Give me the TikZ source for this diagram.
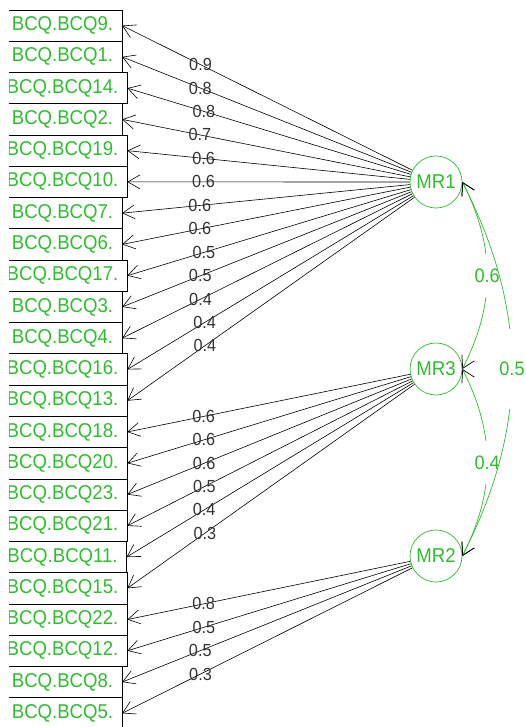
\documentclass[tikz,border=0pt]{standalone}
\usepackage{fontspec}
\setmainfont{Liberation Sans}[FakeStretch=0.93]
\usetikzlibrary{arrows.meta,positioning}
\definecolor{mrgreen}{RGB}{45,190,45}

\begin{document}
\begin{tikzpicture}[
		x=1pt, y=-1pt,
		item/.style={draw, text=mrgreen, minimum height=31.26pt, inner xsep=9pt, inner ysep=0pt, outer sep=0pt, line width=0.7pt, font=\fontsize{20}{22}\selectfont},
		factor/.style={draw=mrgreen, circle, minimum size=52pt, inner sep=0pt, text=mrgreen, line width=0.7pt, font=\fontsize{20}{22}\selectfont},
		load/.style={line width=0.6pt, -{Straight Barb[length=12pt, width=14pt]}},
		loadlbl/.style={pos=.73, inner sep=0pt, text=black!80, font=\fontsize{17.5}{19}\selectfont},
		cor/.style={draw=mrgreen, line width=0.7pt, {Straight Barb[color=black, length=12pt, width=14pt]}-{Straight Barb[color=black, length=12pt, width=14pt]}},
		corlbl/.style={fill=white, text=mrgreen, inner xsep=0pt, inner ysep=14.5pt, font=\fontsize{19.5}{21}\selectfont},
	]
		\useasboundingbox (0,0) rectangle (526,727);
		\clip (9,0) rectangle (526,727);

		\node [item] (i9) at (62.5,25.6) {BCQ.BCQ9.};
		\node [item, below=0pt of i9] (i1) {BCQ.BCQ1.};
		\node [item, below=0pt of i1] (i14) {BCQ.BCQ14.};
		\node [item, below=0pt of i14] (i2) {BCQ.BCQ2.};
		\node [item, below=0pt of i2] (i19) {BCQ.BCQ19.};
		\node [item, below=0pt of i19] (i10) {BCQ.BCQ10.};
		\node [item, below=0pt of i10] (i7) {BCQ.BCQ7.};
		\node [item, below=0pt of i7] (i6) {BCQ.BCQ6.};
		\node [item, below=0pt of i6] (i17) {BCQ.BCQ17.};
		\node [item, below=0pt of i17] (i3) {BCQ.BCQ3.};
		\node [item, below=0pt of i3] (i4) {BCQ.BCQ4.};
		\node [item, below=0pt of i4] (i16) {BCQ.BCQ16.};
		\node [item, below=0pt of i16] (i13) {BCQ.BCQ13.};
		\node [item, below=0pt of i13] (i18) {BCQ.BCQ18.};
		\node [item, below=0pt of i18] (i20) {BCQ.BCQ20.};
		\node [item, below=0pt of i20] (i23) {BCQ.BCQ23.};
		\node [item, below=0pt of i23] (i21) {BCQ.BCQ21.};
		\node [item, below=0pt of i21] (i11) {BCQ.BCQ11.};
		\node [item, below=0pt of i11] (i15) {BCQ.BCQ15.};
		\node [item, below=0pt of i15] (i22) {BCQ.BCQ22.};
		\node [item, below=0pt of i22] (i12) {BCQ.BCQ12.};
		\node [item, below=0pt of i12] (i8) {BCQ.BCQ8.};
		\node [item, below=0pt of i8] (i5) {BCQ.BCQ5.};

		\node [factor] (mr1) at (436,182) {MR1};
		\node [factor] (mr3) at (436,369) {MR3};
		\node [factor] (mr2) at (436,556) {MR2};

		\draw [load] (mr1) to node[loadlbl] {0.9} (i9.east);
		\draw [load] (mr1) to node[loadlbl] {0.8} (i1.east);
		\draw [load] (mr1) to node[loadlbl] {0.8} (i14.east);
		\draw [load] (mr1) to node[loadlbl] {0.7} (i2.east);
		\draw [load] (mr1) to node[loadlbl] {0.6} (i19.east);
		\draw [load] (mr1) to node[loadlbl] {0.6} (i10.east);
		\draw [load] (mr1) to node[loadlbl] {0.6} (i7.east);
		\draw [load] (mr1) to node[loadlbl] {0.6} (i6.east);
		\draw [load] (mr1) to node[loadlbl] {0.5} (i17.east);
		\draw [load] (mr1) to node[loadlbl] {0.5} (i3.east);
		\draw [load] (mr1) to node[loadlbl] {0.4} (i4.east);
		\draw [load] (mr1) to node[loadlbl] {0.4} (i16.east);
		\draw [load] (mr1) to node[loadlbl] {0.4} (i13.east);

		\draw [load] (mr3) to node[loadlbl] {0.6} (i18.east);
		\draw [load] (mr3) to node[loadlbl] {0.6} (i20.east);
		\draw [load] (mr3) to node[loadlbl] {0.6} (i23.east);
		\draw [load] (mr3) to node[loadlbl] {0.5} (i21.east);
		\draw [load] (mr3) to node[loadlbl] {0.4} (i11.east);
		\draw [load] (mr3) to node[loadlbl] {0.3} (i15.east);

		\draw [load] (mr2) to node[loadlbl] {0.8} (i22.east);
		\draw [load] (mr2) to node[loadlbl] {0.5} (i12.east);
		\draw [load] (mr2) to node[loadlbl] {0.5} (i8.east);
		\draw [load] (mr2) to node[loadlbl] {0.3} (i5.east);

		\draw [cor] (mr1.east) to[bend left=27] node[corlbl] (c13) {0.6} (mr3.east);
		\draw [cor] (mr3.east) to[bend left=27] node[corlbl] (c32) {0.4} (mr2.east);
		\draw [cor] (mr1.east) to[bend left=27] node[corlbl, inner ysep=33pt] (c12) {0.5} (mr2.east);
	\end{tikzpicture}
\end{document}
